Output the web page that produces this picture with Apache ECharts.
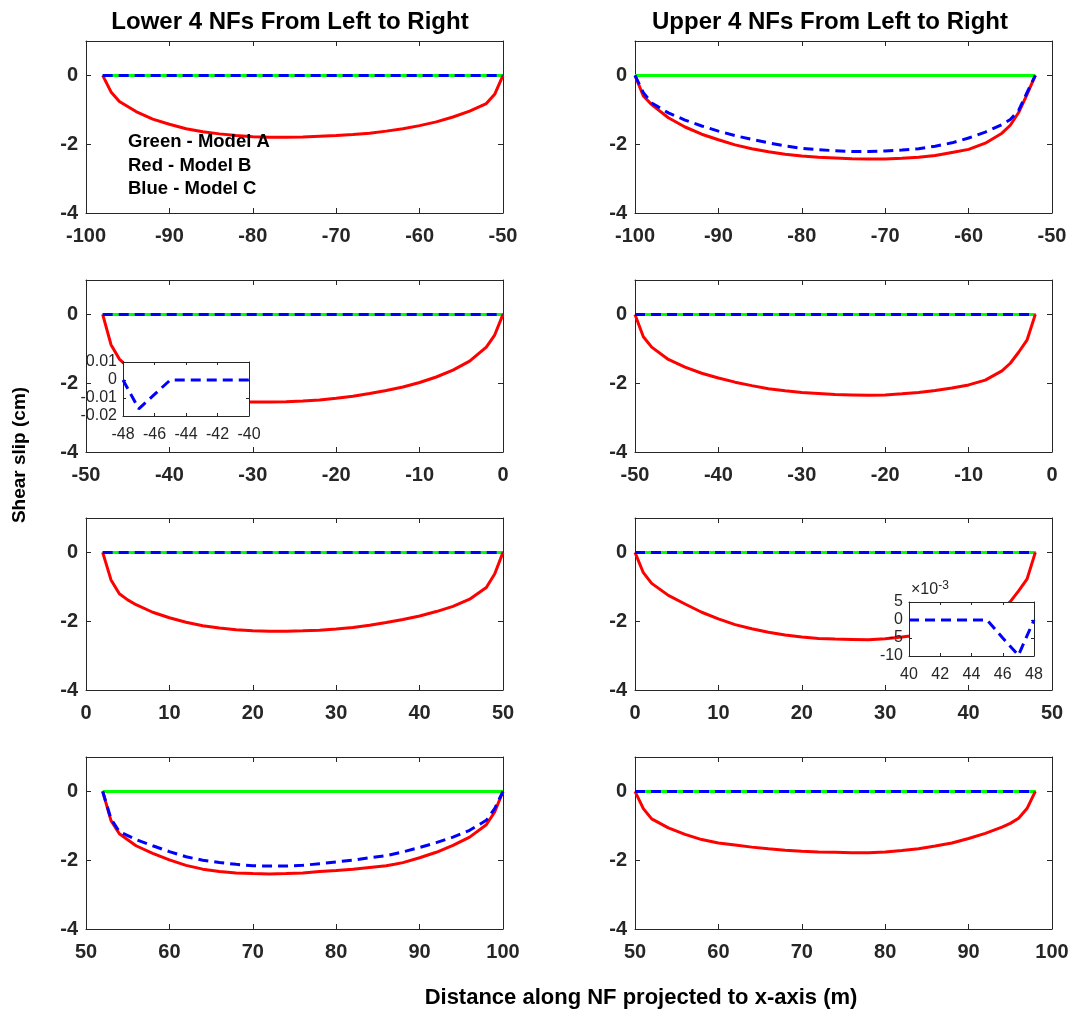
<!DOCTYPE html>
<html>
<head>
<meta charset="utf-8">
<script src="https://cdn.jsdelivr.net/npm/echarts@6/dist/echarts.min.js"></script>
<style>
html,body{margin:0;padding:0;background:#fff;}
#chart{width:1075px;height:1011px;}
</style>
</head>
<body>
<div id="chart"></div>
<script>
// ---------------- DATA ----------------
// Lower NFs (left column)
const L1_x    = [-98,-97,-96,-94,-92,-90,-88,-86,-84,-82,-80,-78,-76,-74,-72,-70,-68,-66,-64,-62,-60,-58,-56,-54,-52,-51,-50];
const L1_red  = [0,-0.48,-0.76,-1.05,-1.27,-1.42,-1.55,-1.64,-1.70,-1.75,-1.78,-1.80,-1.80,-1.79,-1.77,-1.75,-1.72,-1.68,-1.62,-1.55,-1.46,-1.35,-1.21,-1.04,-0.82,-0.55,0];
const L1_fx   = [-98,-50];
const L1_green= [0,0];
const L1_blue = [0,0];

const L2_x    = [-48,-47,-46,-44,-42,-40,-38,-36,-34,-32,-30,-28,-26,-24,-22,-20,-18,-16,-14,-12,-10,-8,-6,-4,-2,-1,0];
const L2_red  = [0,-0.88,-1.3,-1.75,-2.05,-2.25,-2.38,-2.46,-2.51,-2.54,-2.55,-2.55,-2.54,-2.52,-2.49,-2.44,-2.38,-2.3,-2.21,-2.11,-1.98,-1.82,-1.62,-1.36,-0.95,-0.6,0];
const L2_fx   = [-48,0];
const L2_green= [0,0];
const L2_blue = [0,0];

const L3_x    = [2,3,4,5,6,8,10,12,14,16,18,20,22,24,26,28,30,32,34,36,38,40,42,44,46,48,49,50];
const L3_red  = [0,-0.8,-1.2,-1.38,-1.52,-1.74,-1.9,-2.03,-2.13,-2.2,-2.25,-2.28,-2.29,-2.29,-2.28,-2.26,-2.23,-2.18,-2.12,-2.04,-1.95,-1.85,-1.72,-1.57,-1.36,-1.02,-0.63,0];
const L3_fx   = [2,50];
const L3_green= [0,0];
const L3_blue = [0,0];

const L4_x    = [52,53,54,56,58,60,62,64,66,68,70,72,74,76,78,80,82,84,86,87,88,90,92,94,96,98,99,100];
const L4_red  = [0,-0.85,-1.23,-1.58,-1.8,-1.99,-2.15,-2.26,-2.33,-2.37,-2.39,-2.4,-2.39,-2.37,-2.33,-2.3,-2.26,-2.21,-2.16,-2.12,-2.07,-1.93,-1.77,-1.57,-1.33,-0.97,-0.6,0];
const L4_bx   = [52,53,54,56,58,60,62,64,66,68,70,72,74,76,78,80,82,84,86,88,90,92,94,96,98,99,100];
const L4_blue = [0,-0.8,-1.17,-1.4,-1.58,-1.75,-1.9,-2.0,-2.07,-2.12,-2.16,-2.17,-2.17,-2.15,-2.1,-2.05,-2.0,-1.93,-1.87,-1.76,-1.63,-1.49,-1.33,-1.13,-0.84,-0.5,0];
const L4_fx   = [52,100];
const L4_green= [0,0];

// Upper NFs (right column)
const U1_x    = [-100,-99,-98,-96,-94,-92,-90,-88,-86,-84,-82,-80,-78,-76,-74,-72,-70,-68,-66,-64,-62,-60,-58,-56,-55,-54,-53,-52];
const U1_red  = [0,-0.6,-0.85,-1.23,-1.5,-1.71,-1.87,-2.02,-2.13,-2.22,-2.29,-2.34,-2.38,-2.40,-2.42,-2.43,-2.43,-2.41,-2.38,-2.33,-2.24,-2.15,-1.97,-1.68,-1.45,-1.08,-0.56,0];
const U1_blue = [0,-0.5,-0.8,-1.09,-1.3,-1.47,-1.62,-1.75,-1.86,-1.96,-2.05,-2.12,-2.16,-2.19,-2.21,-2.21,-2.2,-2.17,-2.13,-2.06,-1.96,-1.82,-1.65,-1.43,-1.28,-1.02,-0.5,0];
const U1_fx   = [-100,-52];
const U1_green= [0,0];

const U2_x    = [-50,-49,-48,-46,-44,-42,-40,-38,-36,-34,-32,-30,-28,-26,-24,-22,-20,-18,-16,-14,-12,-10,-8,-6,-5,-4,-3,-2];
const U2_red  = [0,-0.65,-0.95,-1.31,-1.53,-1.71,-1.85,-1.97,-2.07,-2.16,-2.22,-2.27,-2.30,-2.33,-2.34,-2.35,-2.34,-2.31,-2.27,-2.21,-2.14,-2.05,-1.91,-1.64,-1.42,-1.1,-0.75,0];
const U2_fx   = [-50,-2];
const U2_green= [0,0];
const U2_blue = [0,0];

const U3_x    = [0,1,2,4,6,8,10,12,14,16,18,20,22,24,26,28,30,32,34,36,38,40,42,44,45,46,47,48];
const U3_red  = [0,-0.59,-0.9,-1.25,-1.5,-1.74,-1.93,-2.1,-2.22,-2.32,-2.4,-2.46,-2.5,-2.52,-2.53,-2.54,-2.51,-2.46,-2.4,-2.33,-2.24,-2.1,-1.92,-1.65,-1.43,-1.12,-0.78,0];
const U3_fx   = [0,48];
const U3_green= [0,0];
const U3_blue = [0,0];

const U4_x    = [50,51,52,54,56,58,60,62,64,66,68,70,72,74,76,78,80,82,84,86,88,90,92,94,95,96,97,98];
const U4_red  = [0,-0.5,-0.8,-1.06,-1.25,-1.4,-1.5,-1.56,-1.62,-1.67,-1.71,-1.74,-1.76,-1.77,-1.78,-1.78,-1.76,-1.72,-1.67,-1.59,-1.5,-1.37,-1.22,-1.04,-0.93,-0.78,-0.5,0];
const U4_fx   = [50,98];
const U4_green= [0,0];
const U4_blue = [0,0];

// Insets (Model C zoom)
const IN1_x    = [-48,-47,-46,-45,-44,-42,-40];
const IN1_blue = [0,-0.016,-0.008,0,0,0,0];
const IN2_x    = [40,42,44,45,46,47,48];
const IN2_blue = [0,0,0,0,-0.005,-0.0098,0];

// Tick values / labels
const X_RANGES = [[-100,-50],[-50,0],[0,50],[50,100]];
const Y_TICKS  = [-4,-2,0];
const IN1_XR = [-48,-40], IN1_YR = [-0.02,0.01];
const IN2_XR = [40,48],   IN2_YR = [-0.01,0.005];

const TITLE_L = 'Lower 4 NFs From Left to Right';
const TITLE_R = 'Upper 4 NFs From Left to Right';
const YLABEL = 'Shear slip (cm)';
const XLABEL = 'Distance along NF projected to x-axis (m)';
const LEGEND_TXT = ['Green - Model A','Red - Model B','Blue - Model C'];

// ---------------- BUILD ----------------
const FF = '"Liberation Sans", Arial, Helvetica, sans-serif';
const AX = '#262626';
const zip = (xs, ys) => xs.map((x, i) => [x, ys[i]]);

const colLeft = [86, 635];
const rowTop = [41, 280, 518, 757];
const GW = 417, GH = 172;

const grids = [], xAxes = [], yAxes = [], series = [];

function addMainGrid(col, row) {
  const gi = grids.length;
  grids.push({left: colLeft[col], top: rowTop[row], width: GW, height: GH, containLabel: false});
  const [xmin, xmax] = X_RANGES[row];
  const base = {
    gridIndex: gi, type: 'value', min: xmin, max: xmax, interval: 10,
    axisLine: {show: true, onZero: false, lineStyle: {color: AX, width: 1}},
    axisTick: {show: true, inside: true, length: 5, lineStyle: {color: AX, width: 1}},
    splitLine: {show: false}
  };
  const xb = xAxes.length;
  xAxes.push(Object.assign({}, base, {position: 'bottom',
    axisLabel: {show: true, color: AX, fontSize: 20, fontWeight: 'bold', fontFamily: FF, margin: 13}}));
  xAxes.push(Object.assign({}, base, {position: 'top', axisLabel: {show: false}}));
  const ybase = {
    gridIndex: gi, type: 'value', min: -4, max: 1, interval: 2,
    axisLine: {show: true, onZero: false, lineStyle: {color: AX, width: 1}},
    axisTick: {show: true, inside: true, length: 5, customValues: Y_TICKS, lineStyle: {color: AX, width: 1}},
    splitLine: {show: false}
  };
  const yl = yAxes.length;
  yAxes.push(Object.assign({}, ybase, {position: 'left',
    axisLabel: {show: true, customValues: Y_TICKS, color: AX, fontSize: 20, fontWeight: 'bold', fontFamily: FF, margin: 8}}));
  yAxes.push(Object.assign({}, ybase, {position: 'right', axisLabel: {show: false}}));
  return {xb, yl};
}

function addLine(ax, data, color, dashed) {
  series.push({
    type: 'line', xAxisIndex: ax.xb, yAxisIndex: ax.yl, data: data,
    showSymbol: false, symbol: 'none', smooth: false, animation: false,
    lineStyle: {color: color, width: 3, type: dashed ? [10, 6] : 'solid'},
    z: ax.z || 2
  });
}

const panels = [
  {col:0,row:0, fx:L1_fx, green:L1_green, rx:L1_x, red:L1_red, bx:L1_fx, blue:L1_blue},
  {col:0,row:1, fx:L2_fx, green:L2_green, rx:L2_x, red:L2_red, bx:L2_fx, blue:L2_blue},
  {col:0,row:2, fx:L3_fx, green:L3_green, rx:L3_x, red:L3_red, bx:L3_fx, blue:L3_blue},
  {col:0,row:3, fx:L4_fx, green:L4_green, rx:L4_x, red:L4_red, bx:L4_bx, blue:L4_blue},
  {col:1,row:0, fx:U1_fx, green:U1_green, rx:U1_x, red:U1_red, bx:U1_x, blue:U1_blue},
  {col:1,row:1, fx:U2_fx, green:U2_green, rx:U2_x, red:U2_red, bx:U2_fx, blue:U2_blue},
  {col:1,row:2, fx:U3_fx, green:U3_green, rx:U3_x, red:U3_red, bx:U3_fx, blue:U3_blue},
  {col:1,row:3, fx:U4_fx, green:U4_green, rx:U4_x, red:U4_red, bx:U4_fx, blue:U4_blue}
];
panels.forEach(p => {
  const ax = addMainGrid(p.col, p.row);
  addLine(ax, zip(p.fx, p.green), '#00FF00', false);
  addLine(ax, zip(p.rx, p.red), '#FF0000', false);
  addLine(ax, zip(p.bx, p.blue), '#0000FF', true);
});

function addInset(box, xr, xint, yr, yint, yfmt, yname) {
  const gi = grids.length;
  grids.push({left: box[0], top: box[1], width: box[2], height: box[3], show: true,
    backgroundColor: '#ffffff', borderWidth: 0, z: 10});
  const xbase = {gridIndex: gi, type: 'value', min: xr[0], max: xr[1], interval: xint, z: 11,
    axisLine: {show: true, onZero: false, lineStyle: {color: AX, width: 1}},
    axisTick: {show: true, inside: true, length: 3, lineStyle: {color: AX}},
    splitLine: {show: false}};
  const xb = xAxes.length;
  xAxes.push(Object.assign({}, xbase, {position: 'bottom',
    axisLabel: {show: true, color: AX, fontSize: 16, fontFamily: FF, margin: 11}}));
  xAxes.push(Object.assign({}, xbase, {position: 'top', axisLabel: {show: false}}));
  const ybase = {gridIndex: gi, type: 'value', min: yr[0], max: yr[1], interval: yint, z: 11,
    axisLine: {show: true, onZero: false, lineStyle: {color: AX, width: 1}},
    axisTick: {show: true, inside: true, length: 3, lineStyle: {color: AX}},
    splitLine: {show: false}};
  const yl = yAxes.length;
  const left = Object.assign({}, ybase, {position: 'left',
    axisLabel: {show: true, color: AX, fontSize: 16, fontFamily: FF, margin: 6, formatter: yfmt}});
  if (yname) {
    left.name = yname;
    left.nameLocation = 'end';
    left.nameGap = 2;
    left.nameTextStyle = {align: 'left', color: AX, fontFamily: FF, padding: [0,0,0,2],
      rich: {b: {fontSize: 16, fontFamily: FF, color: AX, lineHeight: 20},
             s: {fontSize: 12, fontFamily: FF, color: AX, verticalAlign: 'top', lineHeight: 20}}};
  }
  yAxes.push(left);
  yAxes.push(Object.assign({}, ybase, {position: 'right', axisLabel: {show: false}}));
  return {xb, yl, z: 12};
}

const in1 = addInset([123, 362, 126, 54], IN1_XR, 2, IN1_YR, 0.01,
  v => (Math.abs(v) < 1e-9 ? '0' : v.toFixed(2)), null);
addLine(in1, zip(IN1_x, IN1_blue), '#0000FF', true);

const in2 = addInset([909, 602, 125, 54], IN2_XR, 2, IN2_YR, 0.005,
  v => String(Math.round(v * 1000)), '{b|×10}{s|-3}');
addLine(in2, zip(IN2_x, IN2_blue), '#0000FF', true);

const txt = (x, y, text, size, extra) => Object.assign({
  type: 'text', x: x, y: y, z: 50,
  style: {text: text, fill: '#000', font: 'bold ' + size + 'px ' + FF, align: 'center', verticalAlign: 'middle'}
}, extra || {});

const graphic = [
  txt(290, 22, TITLE_L, 24),
  txt(830, 22, TITLE_R, 24),
  txt(641, 998, XLABEL, 22),
  txt(20, 455, YLABEL, 19, {rotation: Math.PI / 2}),
];
LEGEND_TXT.forEach((t, i) => {
  const g = txt(128, 142 + i * 23.5, t, 18.5);
  g.style.align = 'left';
  graphic.push(g);
});

const chart = echarts.init(document.getElementById('chart'), null, {renderer: 'canvas'});
chart.setOption({
  animation: false,
  backgroundColor: '#ffffff',
  grid: grids, xAxis: xAxes, yAxis: yAxes, series: series, graphic: graphic
});
</script>
</body>
</html>
